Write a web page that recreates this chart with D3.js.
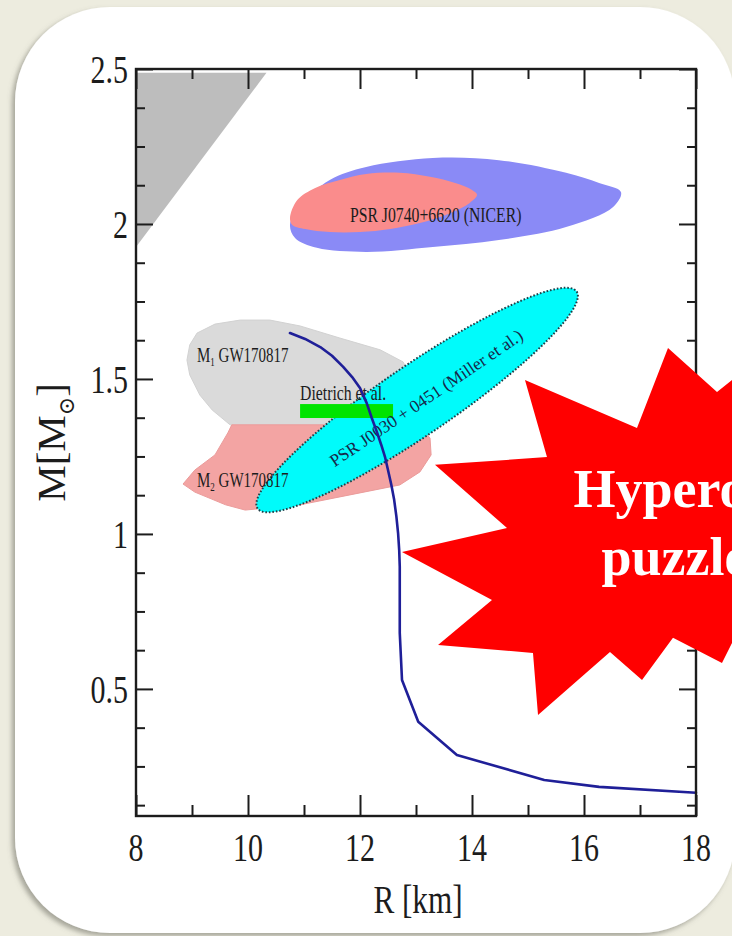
<!DOCTYPE html>
<html>
<head>
<meta charset="utf-8">
<script src="https://cdn.jsdelivr.net/npm/d3@7/dist/d3.min.js"></script>
<style>
  html, body { margin: 0; padding: 0; background: #edecdf; }
  svg { display: block; }
</style>
</head>
<body>
<svg id="chart" width="732" height="936"></svg>
<script>
// ---- axis ticks ----
const xMajorTicks = [8, 10, 12, 14, 16, 18];
const xMinorTicks = [9, 11, 13, 15, 17];
const xTickLabels = ["8", "10", "12", "14", "16", "18"];
const yMajorTicks = [0.5, 1, 1.5, 2, 2.5];
const yMinorTicks = [0.125, 0.25, 0.375, 0.625, 0.75, 0.875, 1.125, 1.25, 1.375,
                     1.625, 1.75, 1.875, 2.125, 2.25, 2.375];
const yTickLabels = ["0.5", "1", "1.5", "2", "2.5"];

// ---- mass-radius curve of the EOS (R in km, M in solar masses) ----
const eosR = [10.75, 11.02, 11.29, 11.50, 11.70, 11.86, 12.00, 12.12, 12.21, 12.30, 12.38,
              12.45, 12.50, 12.56, 12.61, 12.65, 12.68, 12.70, 12.71, 12.71, 12.75, 13.04,
              13.73, 15.29, 16.27, 18.00];
const eosM = [1.648, 1.629, 1.603, 1.575, 1.539, 1.506, 1.471, 1.422, 1.374, 1.330, 1.287,
              1.246, 1.206, 1.158, 1.110, 1.056, 1.003, 0.948, 0.894, 0.681, 0.529, 0.394,
              0.287, 0.206, 0.184, 0.165];

// ---- causality-excluded corner ----
const causalR = [8, 10.33, 8];
const causalM = [2.488, 2.488, 1.926];

// ---- PSR J0740+6620 (NICER) regions ----
const nicerOuterR = [11.46, 12.11, 13.30, 14.48, 15.68, 16.27, 16.66, 16.52, 15.68, 14.48,
                     13.30, 12.11, 11.23, 10.84, 10.75, 10.93];
const nicerOuterM = [2.142, 2.184, 2.213, 2.206, 2.165, 2.132, 2.103, 2.055, 1.990, 1.948,
                     1.926, 1.910, 1.923, 1.955, 1.997, 2.061];
const nicerInnerR = [10.75, 10.88, 11.20, 11.64, 12.11, 12.71, 13.25, 13.70, 14.00, 14.09,
                     13.96, 13.61, 13.07, 12.54, 12.00, 11.46, 11.02, 10.79];
const nicerInnerM = [2.019, 2.077, 2.116, 2.142, 2.161, 2.165, 2.152, 2.132, 2.110, 2.094,
                     2.068, 2.035, 2.003, 1.984, 1.974, 1.974, 1.984, 1.997];

// ---- GW170817 component masses ----
const m1R = [9.09, 9.41, 9.86, 10.39, 10.93, 11.64, 12.36, 12.77, 12.86, 12.71,
             12.45, 12.18, 9.68, 9.36, 9.14, 8.96, 8.91, 8.96];
const m1M = [1.648, 1.677, 1.690, 1.690, 1.671, 1.632, 1.594, 1.555, 1.523, 1.465,
             1.400, 1.352, 1.352, 1.400, 1.448, 1.513, 1.561, 1.610];
const m2R = [9.71, 12.80, 13.07, 13.25, 13.27, 13.07, 12.71, 11.82, 10.93, 9.95,
             9.60, 9.05, 8.84, 9.05, 9.41, 9.64];
const m2M = [1.352, 1.352, 1.342, 1.310, 1.255, 1.200, 1.158, 1.126, 1.094, 1.077,
             1.094, 1.135, 1.161, 1.206, 1.255, 1.326];

// ---- Dietrich et al. band ----
const dietrichR = [10.93, 12.59];
const dietrichM = [1.374, 1.419];

// ---- PSR J0030+0451 (Miller et al.) ellipse: centre and semi-axes ----
const psrCentre = [13.02, 1.432];
const psrMajorAxis = [2.85, 0.350];
const psrMinorAxis = [0.351, -0.0934];

// ---- "Hyperon puzzle" burst outline ----
const burstR = [17.50, 18.375, 19.86, 19.68, 21.64, 19.86, 21.29, 18.875, 18.464, 17.589,
                17.036, 16.464, 15.179, 15.089, 13.393, 14.357, 12.75, 14.625, 13.339,
                15.339, 14.946, 16.946];
const burstM = [1.600, 1.458, 1.671, 1.271, 1.174, 0.916, 0.658, 0.732, 0.584, 0.665,
                0.529, 0.619, 0.416, 0.616, 0.642, 0.787, 0.942, 1.019, 1.223,
                1.248, 1.497, 1.342];

const svg = d3.select("#chart");
const serif = "'Liberation Serif', 'Times New Roman', 'DejaVu Serif', serif";
const ink = "#1c1c1c";

// card with soft drop shadow
const defs = svg.append("defs");
const f = defs.append("filter").attr("id", "cardShadow")
  .attr("x", "-5%").attr("y", "-5%").attr("width", "110%").attr("height", "110%");
f.append("feDropShadow").attr("dx", -3).attr("dy", 3).attr("stdDeviation", 2.5)
  .attr("flood-color", "#6b6a5e").attr("flood-opacity", 0.55);

svg.append("rect").attr("x", 15).attr("y", 7).attr("width", 720).attr("height", 926)
  .attr("rx", 95).attr("ry", 95).attr("fill", "#ffffff").attr("filter", "url(#cardShadow)");

// scales
const x = d3.scaleLinear().domain([8, 18]).range([136, 696]);
const y = d3.scaleLinear().domain([0.09, 2.5]).range([816, 69]);

defs.append("clipPath").attr("id", "plotClip").append("rect")
  .attr("x", x(8)).attr("y", y(2.5)).attr("width", x(18) - x(8)).attr("height", y(0.09) - y(2.5));

const zip = (rs, ms) => rs.map((r, i) => [r, ms[i]]);
const area = d3.line().x(d => x(d[0])).y(d => y(d[1])).curve(d3.curveLinearClosed);
const smoothArea = d3.line().x(d => x(d[0])).y(d => y(d[1])).curve(d3.curveCatmullRomClosed.alpha(0.5));

const plot = svg.append("g").attr("clip-path", "url(#plotClip)");

// causality corner
plot.append("path").attr("d", area(zip(causalR, causalM))).attr("fill", "#bdbdbd");

// NICER contours
plot.append("path").attr("d", smoothArea(zip(nicerOuterR, nicerOuterM))).attr("fill", "#8a8af6");
plot.append("path").attr("d", smoothArea(zip(nicerInnerR, nicerInnerM))).attr("fill", "#fa8c8c");

// GW170817 masses
plot.append("path").attr("d", area(zip(m1R, m1M))).attr("fill", "#dadada")
  .attr("stroke", "#d2d2d2").attr("stroke-width", 1);
plot.append("path").attr("d", area(zip(m2R, m2M))).attr("fill", "#f3a4a3")
  .attr("stroke", "#eb9c9b").attr("stroke-width", 1);

// PSR J0030+0451 ellipse
const angles = d3.range(0, 360, 3).map(a => a * Math.PI / 180);
const ellipsePts = angles.map(t => [
  psrCentre[0] + psrMajorAxis[0] * Math.cos(t) + psrMinorAxis[0] * Math.sin(t),
  psrCentre[1] + psrMajorAxis[1] * Math.cos(t) + psrMinorAxis[1] * Math.sin(t)
]);
plot.append("path").attr("d", area(ellipsePts)).attr("fill", "#00fbfb")
  .attr("stroke", "#1f3f48").attr("stroke-width", 2).attr("stroke-dasharray", "1.6 1.9");

// Dietrich et al. band
plot.append("rect")
  .attr("x", x(dietrichR[0])).attr("y", y(dietrichM[1]))
  .attr("width", x(dietrichR[1]) - x(dietrichR[0]))
  .attr("height", y(dietrichM[0]) - y(dietrichM[1]))
  .attr("fill", "#00e400");

// squeezed serif text helper
function label(g, px, py, size, sx, anchor) {
  return g.append("text")
    .attr("transform", `translate(${px},${py}) scale(${sx},1)`)
    .attr("text-anchor", anchor)
    .attr("font-family", serif)
    .attr("font-size", size)
    .attr("fill", ink);
}

const notes = svg.append("g");
label(notes, x(11.82), y(2.006), 21, 0.75, "start").text("PSR J0740+6620 (NICER)");
label(notes, x(10.93), y(1.432), 21, 0.75, "start").text("Dietrich et al.");

[["1", 1.555], ["2", 1.152]].forEach(([k, m]) => {
  const t = label(notes, x(9.09), y(m), 20, 0.75, "start");
  t.append("tspan").text("M");
  t.append("tspan").attr("font-size", 12).attr("dy", 4).text(k);
  t.append("tspan").attr("dy", -4).text(" GW170817");
});

// ellipse caption, along the major axis
const angle = Math.atan2(y(psrCentre[1] + psrMajorAxis[1]) - y(psrCentre[1]),
                         x(psrCentre[0] + psrMajorAxis[0]) - x(psrCentre[0])) * 180 / Math.PI;
notes.append("text")
  .attr("transform", `translate(${x(13.18)},${y(1.439)}) rotate(${angle})`)
  .attr("text-anchor", "middle").attr("dy", "0.35em")
  .attr("font-family", serif).attr("font-size", 17.5).attr("fill", "#18284a")
  .text("PSR J0030 + 0451 (Miller et al.)");

// EOS curve
svg.append("path")
  .attr("d", d3.line().x(d => x(d[0])).y(d => y(d[1])).curve(d3.curveLinear)(zip(eosR, eosM)))
  .attr("fill", "none").attr("stroke", "#1f1f98").attr("stroke-width", 2.6)
  .attr("stroke-linejoin", "round").attr("stroke-linecap", "round");

// axes with inward ticks on all four sides
function ticks(axis, vals, size, tx, ty) {
  const g = svg.append("g").attr("transform", `translate(${tx},${ty})`)
    .call(axis.tickValues(vals).tickSize(size).tickFormat(""));
  g.select(".domain").remove();
  g.selectAll(".tick line").attr("stroke", ink).attr("stroke-width", 2);
}
ticks(d3.axisTop(x), xMajorTicks, 21, 0, y(0.09));
ticks(d3.axisTop(x), xMinorTicks, 11, 0, y(0.09));
ticks(d3.axisBottom(x), xMajorTicks, 20, 0, y(2.5));
ticks(d3.axisBottom(x), xMinorTicks, 10, 0, y(2.5));
ticks(d3.axisRight(y), yMajorTicks, 17, x(8), 0);
ticks(d3.axisRight(y), yMinorTicks, 9, x(8), 0);
ticks(d3.axisLeft(y), yMajorTicks, 17, x(18), 0);
ticks(d3.axisLeft(y), yMinorTicks, 9, x(18), 0);

svg.append("rect").attr("x", x(8)).attr("y", y(2.5))
  .attr("width", x(18) - x(8)).attr("height", y(0.09) - y(2.5))
  .attr("fill", "none").attr("stroke", ink).attr("stroke-width", 2.4);

// tick labels
const tl = svg.append("g");
xMajorTicks.forEach((v, i) => label(tl, x(v), y(0.09) + 45, 40, 0.75, "middle").text(xTickLabels[i]));
yMajorTicks.forEach((v, i) => label(tl, x(8) - 8, y(v) + 14, 40, 0.75, "end").text(yTickLabels[i]));

// axis titles
label(svg, (x(8) + x(18)) / 2 + 2, y(0.09) + 97, 40, 0.78, "middle").text("R [km]");
const yt = svg.append("text")
  .attr("transform", `translate(65,${(y(0.09) + y(2.5)) / 2}) rotate(-90)`)
  .attr("text-anchor", "middle").attr("font-family", serif).attr("font-size", 41).attr("fill", ink);
yt.append("tspan").text("M[M");
yt.append("tspan").attr("font-size", 22).attr("dy", 9).attr("font-family", "'DejaVu Serif', serif").text("\u2299");
yt.append("tspan").attr("dy", -9).text("]");

// "Hyperon puzzle" burst
svg.append("path").attr("d", area(zip(burstR, burstM))).attr("fill", "#ff0000");
const hp = svg.append("g").attr("font-family", serif).attr("font-weight", "bold")
  .attr("font-size", 54).attr("fill", "#ffffff").attr("text-anchor", "middle");
hp.append("text").attr("x", x(17.625)).attr("y", y(1.087)).text("Hyperon");
hp.append("text").attr("x", x(17.625)).attr("y", y(0.868)).text("puzzle");
</script>
</body>
</html>
